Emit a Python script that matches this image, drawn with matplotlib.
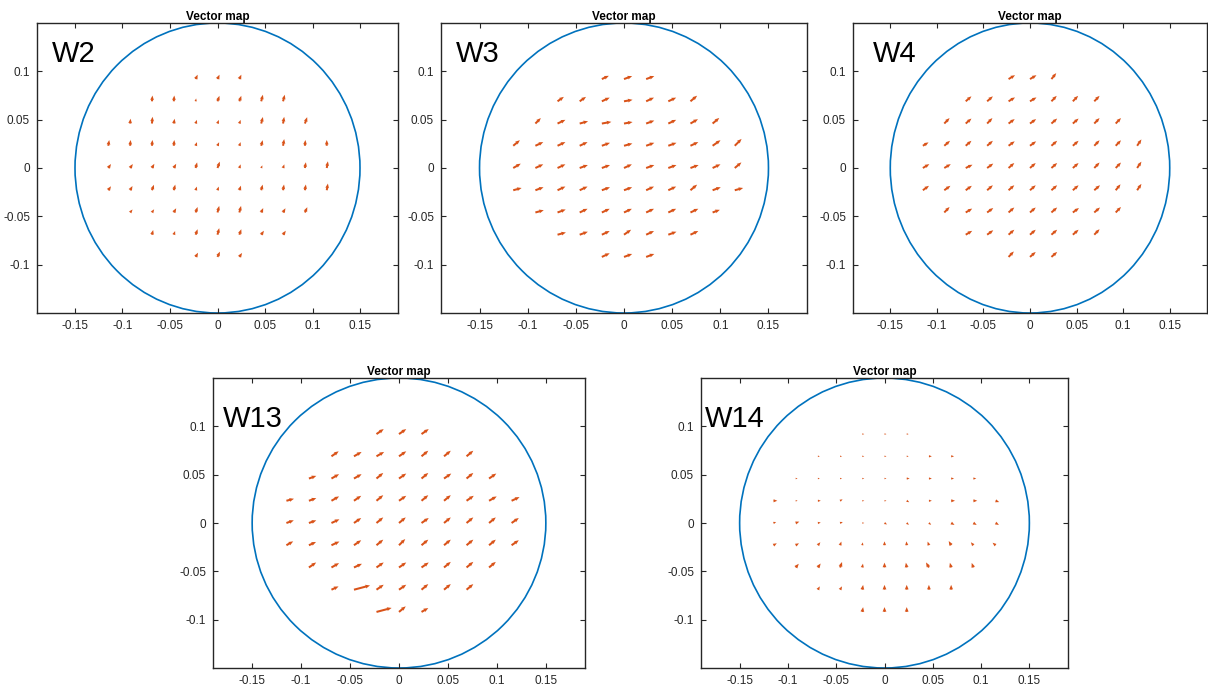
import numpy as np
import matplotlib
matplotlib.use("Agg")
import matplotlib.pyplot as plt
from matplotlib.patches import Circle

plt.rcParams['font.family'] = ['Liberation Sans', 'DejaVu Sans']

# lenslet grid (rows from top to bottom)
row_y = [0.092, 0.069, 0.046, 0.023, 0.0, -0.023, -0.046, -0.069, -0.092]
row_x = [
    [-0.023, 0.0, 0.023],
    [-0.069, -0.046, -0.023, 0.0, 0.023, 0.046, 0.069],
    [-0.092, -0.069, -0.046, -0.023, 0.0, 0.023, 0.046, 0.069, 0.092],
    [-0.115, -0.092, -0.069, -0.046, -0.023, 0.0, 0.023, 0.046, 0.069, 0.092, 0.115],
    [-0.115, -0.092, -0.069, -0.046, -0.023, 0.0, 0.023, 0.046, 0.069, 0.092, 0.115],
    [-0.115, -0.092, -0.069, -0.046, -0.023, 0.0, 0.023, 0.046, 0.069, 0.092, 0.115],
    [-0.092, -0.069, -0.046, -0.023, 0.0, 0.023, 0.046, 0.069, 0.092],
    [-0.069, -0.046, -0.023, 0.0, 0.023, 0.046, 0.069],
    [-0.023, 0.0, 0.023],
]

# vector direction (deg) and length (x1e-3) per row
w2_ang = [[65, 65, 65],
          [85, 85, 80, 70, 70, 75, 75],
          [85, 85, 80, 70, 70, 70, 75, 80, 70],
          [80, 85, 85, 85, 70, 65, 70, 75, 80, 85, 90],
          [55, 55, 60, 60, 75, 70, 70, 65, 70, 80, 80],
          [55, 60, 70, 75, 70, 70, 70, 75, 80, 80, 80],
          [50, 55, 60, 70, 75, 75, 65, 60, 65],
          [75, 70, 70, 75, 70, 55, 55],
          [60, 65, 55]]
w2_len = [[5, 5, 5],
          [6, 6, 3, 6, 6, 7, 7],
          [5, 7, 5, 4, 4, 4, 7, 7, 7],
          [6, 6, 6, 6, 4, 4, 4, 6, 7, 6, 6],
          [5, 5, 5, 5, 6, 7, 4, 3, 4, 6, 7],
          [5, 5, 6, 6, 4, 4, 5, 6, 6, 6, 7],
          [4, 4, 5, 6, 7, 7, 5, 5, 6],
          [5, 4, 6, 7, 6, 5, 5],
          [5, 6, 5]]

w3_ang = [[25, 20, 20],
          [35, 35, 25, 10, 25, 25, 40],
          [45, 25, 15, 10, 10, 20, 25, 30, 40],
          [40, 25, 25, 25, 20, 15, 20, 20, 25, 35, 45],
          [30, 25, 25, 20, 20, 25, 20, 20, 20, 25, 40],
          [15, 20, 25, 25, 20, 20, 25, 25, 40, 20, 15],
          [15, 20, 25, 25, 25, 25, 25, 25, 20],
          [15, 20, 25, 35, 25, 20, 25],
          [25, 20, 20]]
w3_len = [[8, 9, 9],
          [8, 8, 9, 9, 9, 9, 9],
          [8, 9, 9, 10, 9, 9, 9, 9, 9],
          [9, 9, 9, 9, 9, 9, 9, 9, 9, 10, 10],
          [9, 9, 9, 9, 9, 9, 9, 9, 9, 9, 9],
          [9, 9, 9, 9, 9, 9, 9, 9, 9, 9, 9],
          [9, 9, 9, 9, 9, 9, 9, 9, 8],
          [9, 9, 9, 9, 9, 9, 9],
          [9, 9, 9]]

w4_ang = [[30, 30, 50],
          [40, 40, 30, 30, 45, 45, 45],
          [45, 40, 45, 35, 35, 40, 40, 45, 45],
          [30, 40, 40, 40, 35, 35, 40, 40, 45, 45, 55],
          [30, 30, 25, 35, 40, 40, 40, 40, 45, 45, 55],
          [35, 35, 35, 40, 40, 40, 40, 40, 40, 50, 55],
          [45, 30, 35, 40, 40, 40, 35, 40, 45],
          [30, 35, 40, 40, 40, 40, 45],
          [45, 40, 40]]
w4_len = [[8, 8, 8],
          [8, 8, 8, 8, 8, 8, 8],
          [8, 8, 8, 8, 8, 8, 8, 8, 8],
          [7, 8, 8, 8, 8, 8, 8, 8, 8, 8, 8],
          [8, 8, 8, 8, 8, 8, 8, 8, 8, 8, 8],
          [8, 8, 8, 8, 8, 8, 8, 8, 8, 8, 8],
          [8, 8, 8, 8, 8, 8, 8, 8, 8],
          [8, 8, 8, 8, 8, 8, 8],
          [8, 8, 8]]

w13_ang = [[35, 35, 35],
           [35, 30, 30, 35, 40, 40, 40],
           [20, 30, 30, 40, 35, 40, 35, 40, 35],
           [15, 20, 30, 35, 40, 35, 40, 40, 35, 30, 25],
           [20, 20, 25, 35, 40, 40, 35, 40, 40, 40, 35],
           [30, 25, 25, 35, 40, 45, 40, 40, 40, 40, 35],
           [35, 30, 25, 35, 35, 35, 40, 40, 40],
           [25, 15, 35, 35, 40, 40, 40],
           [15, 40, 30]]
w13_len = [[9, 9, 9],
           [9, 9, 9, 9, 9, 9, 9],
           [8, 9, 9, 9, 9, 9, 9, 9, 9],
           [8, 8, 9, 9, 9, 9, 9, 9, 9, 9, 9],
           [8, 8, 9, 9, 9, 9, 9, 9, 9, 9, 9],
           [8, 8, 9, 9, 9, 9, 9, 9, 9, 9, 9],
           [9, 9, 9, 9, 9, 9, 9, 9, 9],
           [8, 17, 9, 9, 9, 9, 9],
           [16, 9, 8]]

w14_ang = [[0, 0, 0],
           [0, 0, 0, 0, 0, 0, 0],
           [0, 0, 0, 0, 0, 0, 0, 0, 0],
           [0, 0, 0, 30, 0, 0, -30, 0, 0, 0, -20],
           [20, 20, 10, 20, 0, -30, -40, -40, -30, -30, -30],
           [30, 30, 50, 70, 80, 90, 95, 110, 120, 130, 140],
           [50, 55, 70, 80, 90, 100, 120, 105, 110],
           [60, 60, 80, 90, 90, 90, 90],
           [80, 90, 90]]
w14_len = [[2, 2, 2],
           [2, 2, 2, 2, 2, 3, 3],
           [2, 2, 2, 2, 2, 3, 3, 3, 3],
           [4, 2, 3, 3, 2, 2, 3, 3, 4, 4, 4],
           [3, 4, 3, 3, 2, 3, 3, 3, 4, 4, 4],
           [4, 4, 4, 4, 3, 4, 4, 4, 5, 4, 4],
           [5, 5, 6, 4, 5, 5, 6, 5, 5],
           [4, 4, 5, 5, 5, 5, 5],
           [5, 5, 5]]

names = ['W2', 'W3', 'W4', 'W13', 'W14']
angles = [w2_ang, w3_ang, w4_ang, w13_ang, w14_ang]
lengths = [w2_len, w3_len, w4_len, w13_len, w14_len]

# axes boxes in pixels: left, top, width, height
boxes = [(37, 23, 361, 290), (441, 23, 366, 290), (853, 23, 354, 290),
         (213, 378, 372, 290), (701, 378, 367, 290)]
label_pos = [(0.04, 0.866), (0.04, 0.866), (0.055, 0.866), (0.027, 0.83), (0.011, 0.83)]

W, H = 1208, 690
fig = plt.figure(figsize=(W / 100, H / 100), dpi=100)

for name, ang, ln, box, lp in zip(names, angles, lengths, boxes, label_pos):
    l, t, w, h = box
    ax = fig.add_axes([l / W, (H - t - h) / H, w / W, h / H])
    xs, ys, us, vs = [], [], [], []
    for yy, xrow, arow, lrow in zip(row_y, row_x, ang, ln):
        for xx, a, L in zip(xrow, arow, lrow):
            xs.append(xx)
            ys.append(yy)
            us.append(L * 1e-3 * np.cos(np.radians(a)))
            vs.append(L * 1e-3 * np.sin(np.radians(a)))
    ax.add_patch(Circle((0, 0), 0.15, fill=False, color='#0072BD', lw=1.2))
    ax.quiver(xs, ys, us, vs, angles='xy', scale_units='xy', scale=1,
              color='#D95319', width=0.0055, headwidth=1.9, headlength=2.3,
              headaxislength=2.1, minlength=0.3)
    ax.set_xlim(-0.19, 0.19)
    ax.set_ylim(-0.15, 0.15)
    ax.set_xticks([-0.15, -0.1, -0.05, 0, 0.05, 0.1, 0.15])
    ax.set_xticklabels(['-0.15', '-0.1', '-0.05', '0', '0.05', '0.1', '0.15'])
    ax.set_yticks([-0.1, -0.05, 0, 0.05, 0.1])
    ax.set_yticklabels(['-0.1', '-0.05', '0', '0.05', '0.1'])
    ax.tick_params(direction='in', top=True, right=True, length=3.5,
                   width=0.8, labelsize=8.5, colors='#262626', pad=5)
    for sp in ax.spines.values():
        sp.set_color('#262626')
        sp.set_linewidth(1.0)
    ax.set_title('Vector map', fontsize=8.5, fontweight='bold', pad=2)
    ax.text(lp[0], lp[1], name, transform=ax.transAxes, fontsize=21,
            color='black')

fig.savefig('out.png', dpi=100)
